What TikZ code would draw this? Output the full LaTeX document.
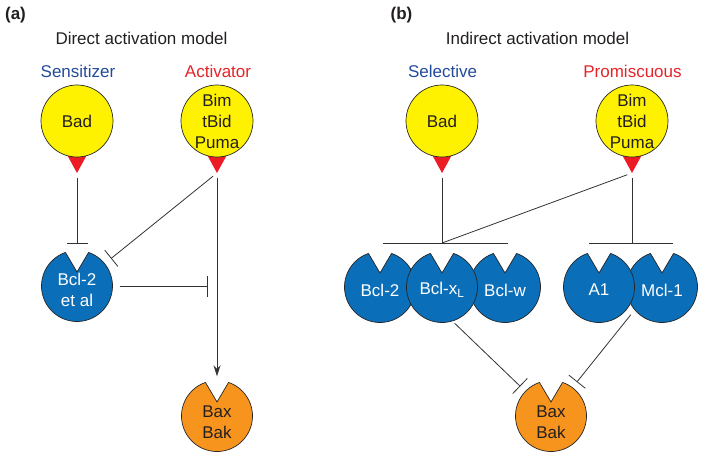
\documentclass[tikz,border=0pt]{standalone}
\usepackage{fontspec}
\setmainfont{Liberation Sans}
\usetikzlibrary{arrows.meta}

\begin{document}
\begin{tikzpicture}[x=1pt, y=1pt,
    every node/.style={font=\fontsize{17}{21}\selectfont},
    ligand/.style={circle, fill=ligyellow, draw=outline, line width=0.7pt,
      minimum size=72pt, inner sep=0pt, align=center, text=textdark},
    receptor/.style={circle, minimum size=71pt, inner sep=0pt},
    receptor text/.style={align=center},
    link/.style={draw=linecolor, line width=0.8pt},
    inhibit/.style={link, -{Bar[width=21pt]}},
    activate/.style={link, -{Stealth[length=11pt, width=7pt]}}]
  % Define colors
  \definecolor{ligyellow}{RGB}{255,242,0}
  \definecolor{tipcolor}{RGB}{237,28,36}
  \definecolor{bclblue}{RGB}{10,110,184}
  \definecolor{baxorange}{RGB}{247,148,29}
  \definecolor{sensblue}{RGB}{35,75,155}
  \definecolor{actred}{RGB}{230,35,40}
  \definecolor{textdark}{RGB}{35,31,32}
  \colorlet{outline}{black!85}
  \colorlet{linecolor}{black!80}

  \useasboundingbox (0,0) rectangle (701,-457);

  % Panel tags and titles
  \node[font=\fontsize{17}{21}\selectfont\bfseries, text=textdark] (tagA) at (15.5,-15) {(a)};
  \node[font=\fontsize{17}{21}\selectfont\bfseries, text=textdark] (tagB) at (401.5,-15) {(b)};
  \node[anchor=base, text=textdark] (titleA) at (141.5,-45) {Direct activation model};
  \node[anchor=base, text=textdark] (titleB) at (537.5,-45) {Indirect activation model};

  % Group labels
  \node[anchor=base, text=sensblue] (sensA) at (78,-78) {Sensitizer};
  \node[anchor=base, text=actred] (actlabA) at (218,-78) {Activator};
  \node[anchor=base, text=sensblue] (selB) at (442.5,-78) {Selective};
  \node[anchor=base, text=actred] (prolabB) at (632.5,-78) {Promiscuous};

  % Ligands with their red tips
  \foreach \n/\x/\txt in {badA/77/Bad, actA/217/{Bim\\tBid\\Puma},
                          badB/442/Bad, proB/632/{Bim\\tBid\\Puma}} {
    \fill[tipcolor] (\x-11.5,-152) -- (\x+11.5,-152) -- (\x,-173) coordinate (\n-tip) -- cycle;
    \node[ligand] (\n) at (\x,-121) {\txt};
  }

  % Receptors: circle with a notch on top
  \foreach \n/\x/\y/\col/\tc/\txt/\dy in {bcl2A/77/286/bclblue/white/{Bcl-2\\et al}/4,
      baxA/217/416/baxorange/textdark/{Bax\\Bak}/6,
      bcl2B/380/287/bclblue/white/Bcl-2/3, bclwB/505/287/bclblue/white/Bcl-w/3,
      bclxlB/442/287/bclblue/white/{Bcl-x\textsubscript{L}}/3,
      mcl1B/662/287/bclblue/white/Mcl-1/3, a1B/599/287/bclblue/white/A1/3,
      baxB/551/416/baxorange/textdark/{Bax\\Bak}/6} {
    \filldraw[fill=\col, draw=outline, line width=0.7pt]
      (\x,-\y) ++(71:35.5) arc[start angle=71, end angle=-251, radius=35.5]
      -- (\x,-\y+14) -- cycle;
    \node[receptor] (\n) at (\x,-\y) {};
    \node[receptor text, text=\tc] (\n-t) at (\x,-\y-\dy) {\txt};
  }

  % Direct activation connectors
  \coordinate (blockA) at (208,-286);
  \draw[inhibit, shorten <=5pt, shorten >=7pt] (badA-tip) -- (bcl2A);
  \draw[inhibit, shorten <=5pt, shorten >=8pt] (actA-tip) -- (bcl2A);
  \draw[inhibit, shorten <=7pt] (bcl2A) -- (blockA);
  \draw[activate, shorten <=5pt, shorten >=4pt] (actA-tip) -- (baxA);

  % Indirect activation connectors
  \coordinate (selJ) at (442,-243);
  \coordinate (selL) at (383,-243);
  \coordinate (selR) at (508,-243);
  \coordinate (proJ) at (632,-243);
  \coordinate (proL) at (589,-243);
  \coordinate (proR) at (673,-243);
  \draw[link, shorten <=5pt] (badB-tip) -- (selJ);
  \draw[link, shorten <=5pt] (proB-tip) -- (selJ);
  \draw[link, shorten <=5pt] (proB-tip) -- (proJ);
  \draw[link] (selL) -- (selR);
  \draw[link] (proL) -- (proR);
  \draw[inhibit, shorten <=3pt, shorten >=7pt] (bclxlB.-73) -- (baxB.136);
  \draw[inhibit, shorten <=6pt, shorten >=7pt] (mcl1B.220) -- (baxB.53);
\end{tikzpicture}
\end{document}
